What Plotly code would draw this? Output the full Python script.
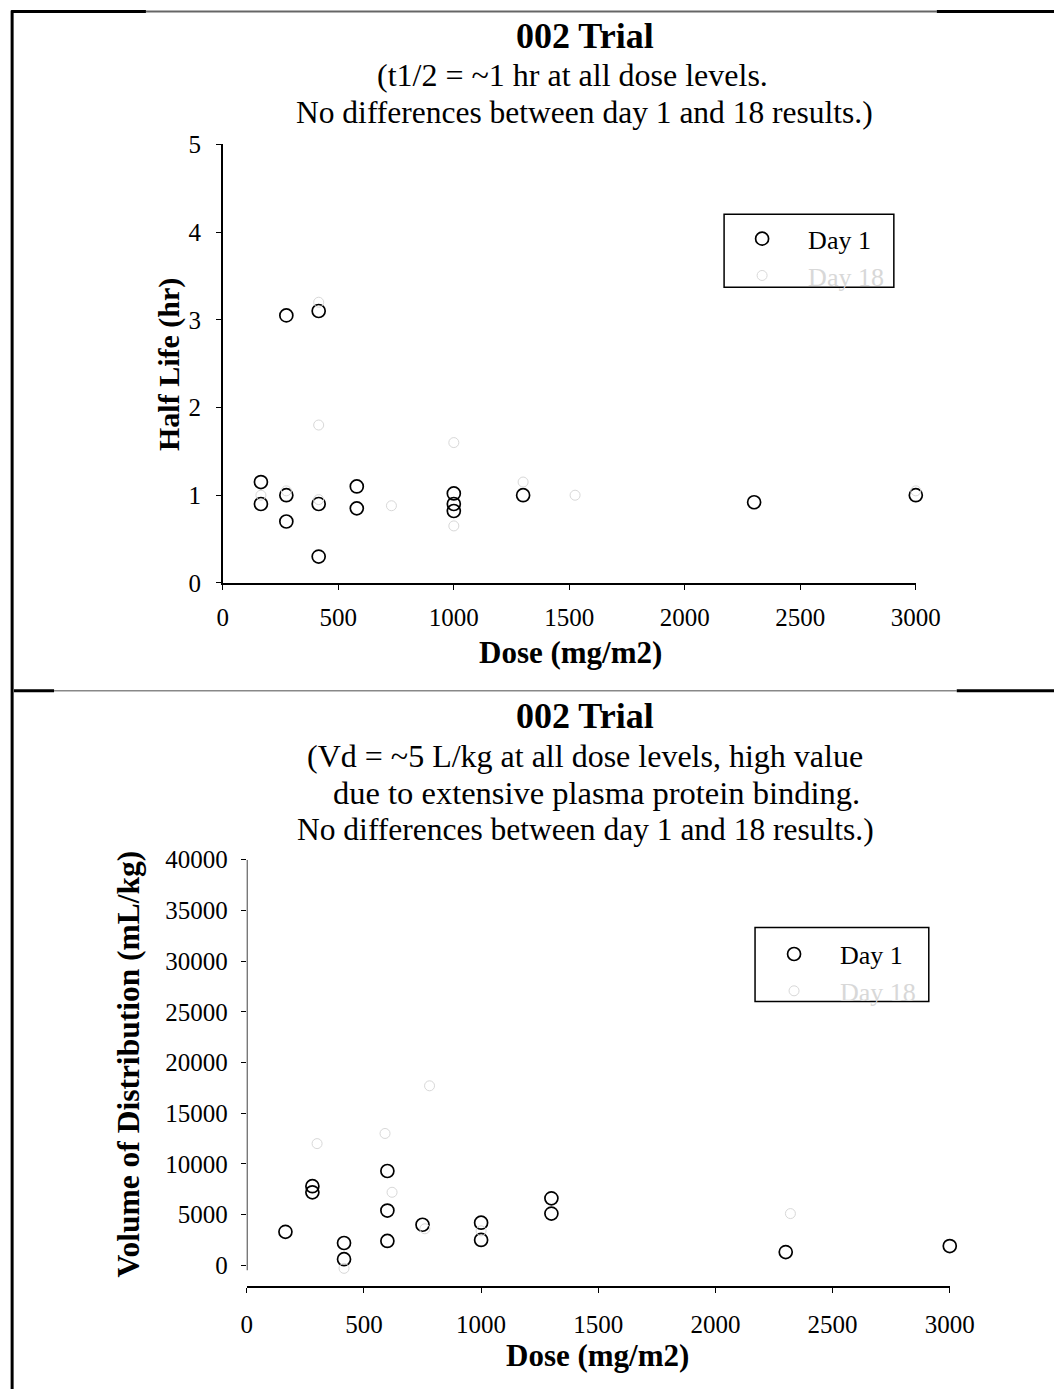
import plotly.graph_objects as go

# Figure size (fills the photographed window so the page frame reaches the picture edges)
W, H = 1076, 1399
BODY_M = 8
# measured mapping between page pixels and the photographed picture
SX, OX = 0.9726, 5.1
SY, OY = 0.9816, 13.7

# ---- Data: Half life (top chart) ----
hl_day1_dose = [165, 165, 275, 275, 275, 415, 415, 415, 580, 580, 1000, 1000, 1000, 1300, 2300, 3000]
hl_day1_val = [1.15, 0.9, 3.05, 1.0, 0.7, 3.1, 0.9, 0.3, 1.1, 0.85, 1.02, 0.9, 0.82, 1.0, 0.92, 1.0]
hl_day18_dose = [165, 275, 415, 415, 415, 730, 1000, 1000, 1300, 1525, 3000]
hl_day18_val = [1.0, 1.05, 3.2, 1.8, 0.95, 0.88, 1.6, 0.65, 1.15, 1.0, 1.05]

# ---- Data: Volume of distribution (bottom chart) ----
vd_day1_dose = [165, 280, 280, 415, 415, 600, 600, 600, 750, 1000, 1000, 1300, 1300, 2300, 3000]
vd_day1_val = [3300, 7800, 7200, 2200, 600, 9300, 5400, 2400, 4000, 4200, 2500, 6600, 5100, 1300, 1900]
vd_day18_dose = [300, 415, 590, 620, 760, 780, 1000, 2320]
vd_day18_val = [12000, -300, 13000, 7200, 3600, 17700, 3400, 5100]

x_ticks = [0, 500, 1000, 1500, 2000, 2500, 3000]
hl_ticks = [0, 1, 2, 3, 4, 5]
vd_ticks = [0, 5000, 10000, 15000, 20000, 25000, 30000, 35000, 40000]

FONT = "Liberation Serif"
FAINT = "#d8d8d8"


def px_x(r):
    p = (r - OX) / SX
    return (p - BODY_M) / W


def px_y(r):
    p = (r - OY) / SY
    return 1 - (p - BODY_M) / H


fig = go.Figure()

day1_marker = dict(symbol="circle-open", size=13, color="black", line=dict(width=1.7, color="black"))
day18_marker = dict(symbol="circle-open", size=10, color=FAINT, line=dict(width=1, color=FAINT))

fig.add_trace(go.Scatter(x=hl_day1_dose, y=hl_day1_val, mode="markers", name="Day 1",
                         marker=day1_marker, xaxis="x", yaxis="y", legend="legend", cliponaxis=False))
fig.add_trace(go.Scatter(x=hl_day18_dose, y=hl_day18_val, mode="markers",
                         name="<span style='color:#d8d8d8'>Day 18</span>",
                         marker=day18_marker, xaxis="x", yaxis="y", legend="legend", cliponaxis=False))
fig.add_trace(go.Scatter(x=vd_day1_dose, y=vd_day1_val, mode="markers", name="Day 1",
                         marker=day1_marker, xaxis="x2", yaxis="y2", legend="legend2", cliponaxis=False))
fig.add_trace(go.Scatter(x=vd_day18_dose, y=vd_day18_val, mode="markers",
                         name="<span style='color:#d8d8d8'>Day 18</span>",
                         marker=day18_marker, xaxis="x2", yaxis="y2", legend="legend2", cliponaxis=False))

tickfont = dict(family=FONT, size=25, color="black")
axis_common = dict(linecolor="black", linewidth=1.5, ticks="outside",
                   ticklen=5, tickcolor="black", tickwidth=1.2, showgrid=False, zeroline=False,
                   tickfont=tickfont, tickformat="d")

legend_font = dict(family=FONT, size=26, color="black")

fig.update_layout(
    width=W, height=H,
    margin=dict(l=0, r=0, t=0, b=0),
    paper_bgcolor="white", plot_bgcolor="white",
    font=dict(family=FONT, color="black"),
    xaxis=dict(domain=[px_x(222), px_x(916)], range=[0, 3000], tickvals=x_ticks,
               anchor="y", ticklabelstandoff=6, showline=True, **axis_common),
    yaxis=dict(domain=[px_y(584), px_y(145)], range=[0, 5], tickvals=hl_ticks,
               anchor="x", ticklabelstandoff=10, showline=True, **axis_common),
    xaxis2=dict(domain=[px_x(246), px_x(950)], range=[0, 3000], tickvals=x_ticks,
                anchor="y2", ticklabelstandoff=10, showline=True, **axis_common),
    yaxis2=dict(domain=[px_y(1288), px_y(861)], range=[-2070, 40000], tickvals=vd_ticks,
                anchor="x2", ticklabelstandoff=8, showline=False, **axis_common),
    legend=dict(x=px_x(716), y=px_y(216), xanchor="left", yanchor="top",
                font=legend_font, bgcolor="rgba(0,0,0,0)", borderwidth=0,
                itemwidth=82, tracegroupgap=0),
    legend2=dict(x=px_x(748), y=px_y(932), xanchor="left", yanchor="top",
                 font=legend_font, bgcolor="rgba(0,0,0,0)", borderwidth=0,
                 itemwidth=82, tracegroupgap=0),
    showlegend=True,
)


def hline(x0, x1, y, color, width):
    return dict(type="line", xref="paper", yref="paper", x0=px_x(x0), x1=px_x(x1),
                y0=px_y(y), y1=px_y(y), line=dict(color=color, width=width))


shapes = [
    # legend boxes
    dict(type="rect", xref="paper", yref="paper", x0=px_x(724), x1=px_x(894),
         y0=px_y(288), y1=px_y(215), line=dict(color="black", width=1.5)),
    dict(type="rect", xref="paper", yref="paper", x0=px_x(755), x1=px_x(929),
         y0=px_y(1003), y1=px_y(929), line=dict(color="black", width=1.5)),
    # bottom chart y axis line (stops short of the lowered x axis)
    dict(type="line", xref="x2", yref="y2", x0=0, x1=0, y0=-500, y1=40000,
         line=dict(color="black", width=1.5)),
    # page frame
    dict(type="line", xref="paper", yref="paper", x0=px_x(11), x1=px_x(11),
         y0=px_y(11), y1=0, line=dict(color="black", width=3)),
    hline(145, 937, 12, "#666666", 2),
    hline(10, 145, 12, "black", 3),
    dict(type="line", xref="paper", yref="paper", x0=px_x(937), x1=1,
         y0=px_y(12), y1=px_y(12), line=dict(color="black", width=3)),
    hline(53, 957, 692, "#888888", 1.5),
    dict(type="line", xref="paper", yref="paper", x0=0, x1=px_x(53),
         y0=px_y(692), y1=px_y(692), line=dict(color="black", width=3)),
    dict(type="line", xref="paper", yref="paper", x0=px_x(957), x1=1,
         y0=px_y(692), y1=px_y(692), line=dict(color="black", width=3)),
]
fig.update_layout(shapes=shapes)


def ann(text, xp, yp, size, bold=False, angle=0):
    t = f"<b>{text}</b>" if bold else text
    return dict(text=t, xref="paper", yref="paper", x=px_x(xp), y=px_y(yp),
                xanchor="center", yanchor="middle", showarrow=False, textangle=angle,
                font=dict(family=FONT, size=size, color="black"))


annotations = [
    ann("002 Trial", 585, 37, 36, bold=True),
    ann("(t1/2 = ~1 hr at all dose levels.", 572, 76, 32),
    ann("No differences between day 1 and 18 results.)", 584, 113, 31.5),
    ann("Dose (mg/m2)", 570, 654, 31, bold=True),
    ann("Half Life (hr)", 168, 365, 30, bold=True, angle=-90),
    ann("002 Trial", 585, 717, 36, bold=True),
    ann("(Vd = ~5 L/kg at all dose levels, high value", 585, 757, 32),
    ann("due to extensive plasma protein binding.", 596, 794, 32.5),
    ann("No differences between day 1 and 18 results.)", 585, 831, 31.5),
    ann("Dose (mg/m2)", 597, 1357, 31, bold=True),
    ann("Volume of Distribution (mL/kg)", 128, 1065, 31.5, bold=True, angle=-90),
]
fig.update_layout(annotations=annotations)

fig.write_html("out.html")
